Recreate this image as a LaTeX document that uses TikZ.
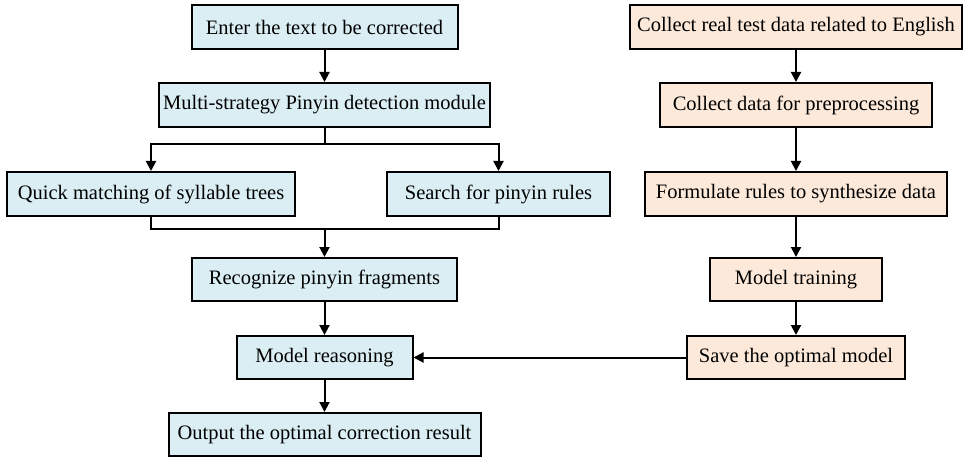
\documentclass[tikz,border=0pt]{standalone}
\usepackage{fontspec}
\setmainfont{Liberation Serif}
\usetikzlibrary{arrows.meta}
\definecolor{paleblue}{HTML}{DAEEF3}
\definecolor{palepeach}{HTML}{FCE9DA}
\tikzset{
  box/.style={draw=black, line width=2pt, minimum height=44pt, inner sep=0pt,
    font=\fontsize{20.5}{22}\selectfont, text=black},
  bluebox/.style={box, fill=paleblue},
  peachbox/.style={box, fill=palepeach},
  link/.style={line width=2pt, -{Triangle[length=10pt,width=10pt]}},
  plain/.style={line width=2pt}
}
\begin{document}
\begin{tikzpicture}[x=1pt, y=-1pt]
\useasboundingbox (0,0) rectangle (965,457);

% left column: text correction pipeline
\node[bluebox, minimum width=266pt] (b1) at (324.5,27) {Enter the text to be corrected};
\node[bluebox, minimum width=331pt] (b2) at (324.5,105) {Multi-strategy Pinyin detection module};
\node[bluebox, minimum width=288pt] (b3) at (151,194) {Quick matching of syllable trees};
\node[bluebox, minimum width=223pt] (b4) at (498.5,194) {Search for pinyin rules};
\node[bluebox, minimum width=265pt, minimum height=43pt] (b5) at (324.5,279.5) {Recognize pinyin fragments};
\node[bluebox, minimum width=176pt, minimum height=43pt] (b6) at (324.5,357.5) {Model reasoning};
\node[bluebox, minimum width=312pt, minimum height=43pt] (b7) at (324.5,434.5) {Output the optimal correction result};

% right column: model preparation
\node[peachbox, minimum width=332pt] (r1) at (796,27) {Collect real test data related to English};
\node[peachbox, minimum width=272pt] (r2) at (796,105) {Collect data for preprocessing};
\node[peachbox, minimum width=302pt] (r3) at (796,194) {Formulate rules to synthesize data};
\node[peachbox, minimum width=172pt, minimum height=43pt] (r4) at (796,279.5) {Model training};
\node[peachbox, minimum width=218pt, minimum height=43pt] (r5) at (796,357.5) {Save the optimal model};

\coordinate (split) at (324.5,144);
\coordinate (join) at (324.5,229);

% left connectors
\draw[link] (b1) -- (b2);
\draw[plain] (b2.south) -- (split);
\draw[link] (split) -| (b3.north);
\draw[link] (split) -| (b4.north);
\draw[plain] (b3.south) |- (join) -| (b4.south);
\draw[link] (join) -- (b5.north);
\draw[link] (b5) -- (b6);
\draw[link] (b6) -- (b7);

% right connectors
\draw[link] (r1) -- (r2);
\draw[link] (r2) -- (r3);
\draw[link] (r3) -- (r4);
\draw[link] (r4) -- (r5);
\draw[link] (r5) -- (b6);
\end{tikzpicture}
\end{document}
